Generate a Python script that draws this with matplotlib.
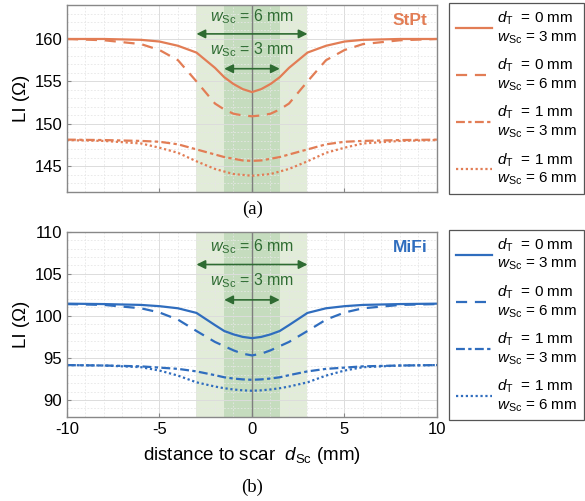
import matplotlib
matplotlib.use('Agg')
import matplotlib.pyplot as plt
from matplotlib.ticker import MultipleLocator
import numpy as np

plt.rcParams['font.family'] = ['Liberation Sans', 'DejaVu Sans']
plt.rcParams['mathtext.fontset'] = 'custom'
plt.rcParams['mathtext.rm'] = 'Liberation Sans'
plt.rcParams['mathtext.it'] = 'Liberation Sans:italic'
plt.rcParams['axes.unicode_minus'] = False

## positions along the scar axis (mm)
d_sc = [-10, -8, -6, -5, -4, -3, -2, -1.5, -1, -0.5, 0, 0.5, 1, 1.5, 2, 3, 4, 5, 6, 8, 10]

## StPt lead impedance (Ohm)
stpt_t0_w3 = [160.0, 160.0, 159.9, 159.7, 159.2, 158.4, 156.6, 155.5, 154.7, 154.1, 153.75,
              154.1, 154.7, 155.5, 156.6, 158.4, 159.2, 159.7, 159.9, 160.0, 160.0]
stpt_t0_w6 = [160.0, 159.85, 159.4, 158.7, 157.5, 155.0, 152.4, 151.7, 151.2, 151.0, 150.9,
              151.0, 151.2, 151.7, 152.4, 155.0, 157.5, 158.7, 159.4, 159.85, 160.0]
stpt_t1_w3 = [148.15, 148.1, 148.0, 147.9, 147.6, 147.0, 146.4, 146.1, 145.9, 145.7, 145.65,
              145.7, 145.9, 146.1, 146.4, 147.0, 147.6, 147.9, 148.0, 148.1, 148.15]
stpt_t1_w6 = [148.1, 148.0, 147.7, 147.2, 146.6, 145.6, 144.7, 144.4, 144.1, 144.0, 143.9,
              144.0, 144.1, 144.4, 144.7, 145.6, 146.6, 147.2, 147.7, 148.0, 148.1]

## MiFi lead impedance (Ohm)
mifi_t0_w3 = [101.45, 101.4, 101.3, 101.15, 100.9, 100.35, 98.9, 98.2, 97.8, 97.5, 97.35,
              97.5, 97.8, 98.2, 98.9, 100.35, 100.9, 101.15, 101.3, 101.4, 101.45]
mifi_t0_w6 = [101.4, 101.3, 100.9, 100.4, 99.55, 98.2, 96.9, 96.4, 95.9, 95.5, 95.3,
              95.5, 95.9, 96.4, 96.9, 98.2, 99.55, 100.4, 100.9, 101.3, 101.4]
mifi_t1_w3 = [94.15, 94.1, 94.0, 93.85, 93.7, 93.4, 92.95, 92.7, 92.55, 92.45, 92.4,
              92.45, 92.55, 92.7, 92.95, 93.4, 93.7, 93.85, 94.0, 94.1, 94.15]
mifi_t1_w6 = [94.15, 94.1, 93.9, 93.5, 92.9, 92.1, 91.6, 91.4, 91.25, 91.15, 91.1,
              91.15, 91.25, 91.4, 91.6, 92.1, 92.9, 93.5, 93.9, 94.1, 94.15]

leg_labels = ['$d_\\mathrm{T}$  = 0 mm\n$w_\\mathrm{Sc}$ = 3 mm',
              '$d_\\mathrm{T}$  = 0 mm\n$w_\\mathrm{Sc}$ = 6 mm',
              '$d_\\mathrm{T}$  = 1 mm\n$w_\\mathrm{Sc}$ = 3 mm',
              '$d_\\mathrm{T}$  = 1 mm\n$w_\\mathrm{Sc}$ = 6 mm']
styles = ['-', (0, (5, 3.5)), (0, (4, 1.5, 1.5, 1.5)), (0, (1, 1.2))]

orange, blue = '#E27D55', '#2F6DBE'
green_dark = '#2E6B32'

fig = plt.figure(figsize=(5.85, 5.01), dpi=100)
ax1 = fig.add_axes([0.1145, 0.617, 0.6325, 0.373])
ax2 = fig.add_axes([0.1145, 0.168, 0.6325, 0.3695])


def draw_panel(ax, series, color, name, ylim, arrow_y, text_y):
    ax.axvspan(-3, 3, color='#e2ecd9', lw=0, zorder=0)
    ax.axvspan(-1.5, 1.5, color='#c5dcbe', lw=0, zorder=0)
    ax.axvline(0, color='#7f7f7f', lw=1.0, zorder=1.8)
    handles = []
    for y, ls in zip(series, styles):
        h, = ax.plot(d_sc, y, color=color, ls=ls, lw=1.6, zorder=3)
        handles.append(h)
    ax.set_xlim(-10, 10)
    ax.set_ylim(*ylim)
    ax.xaxis.set_major_locator(MultipleLocator(5))
    ax.xaxis.set_minor_locator(MultipleLocator(1))
    ax.yaxis.set_major_locator(MultipleLocator(5))
    ax.yaxis.set_minor_locator(MultipleLocator(1))
    ax.grid(True, which='major', color='#dcdcdc', lw=0.7)
    ax.grid(True, which='minor', color='#e6e6e6', lw=0.6, ls=(0, (2, 2)))
    for s in ax.spines.values():
        s.set_color('#888888')
        s.set_linewidth(1.0)
        s.set_zorder(5)
    ax.tick_params(which='both', direction='in', color='#888888', labelsize=12, length=3)
    ax.tick_params(which='minor', length=0)
    ax.set_ylabel('LI (Ω)', fontsize=13.5, labelpad=3)
    ax.text(0.975, 0.955, name, transform=ax.transAxes, ha='right', va='top',
            color=color, fontsize=12.5, fontweight='bold')
    # scar width markers
    for w, ay, ty in zip([6, 3], arrow_y, text_y):
        ax.annotate('', xy=(-w / 2, ay), xytext=(w / 2, ay),
                    arrowprops=dict(arrowstyle='<|-|>', color=green_dark, lw=1.2,
                                    mutation_scale=13, shrinkA=0, shrinkB=0), zorder=4)
        ax.text(0, ty, '$w_\\mathrm{Sc}$ = %d mm' % w, ha='center', va='center',
                color=green_dark, fontsize=11.5, zorder=4)
    leg = ax.legend(handles, leg_labels, loc='upper left', bbox_to_anchor=(1.033, 1.01),
                    borderaxespad=0, fancybox=False, framealpha=1, edgecolor='#555555',
                    fontsize=11, handlelength=2.4, labelspacing=0.72, borderpad=0.42,
                    handletextpad=0.3)
    leg.get_frame().set_linewidth(0.9)
    return handles


draw_panel(ax1, [stpt_t0_w3, stpt_t0_w6, stpt_t1_w3, stpt_t1_w6], orange, 'StPt',
           (142, 164), (160.6, 156.5), (162.6, 158.7))
ax1.tick_params(labelbottom=False)

draw_panel(ax2, [mifi_t0_w3, mifi_t0_w6, mifi_t1_w3, mifi_t1_w6], blue, 'MiFi',
           (88, 110), (106.1, 101.9), (108.2, 104.2))
ax2.set_xlabel('distance to scar  $d_\\mathrm{Sc}$ (mm)', fontsize=13.5, labelpad=6)

fig.text(0.431, 0.583, '(a)', ha='center', va='center', fontsize=13.5, family='Liberation Serif')
fig.text(0.431, 0.027, '(b)', ha='center', va='center', fontsize=13.5, family='Liberation Serif')

fig.savefig('out.png', dpi=100)
